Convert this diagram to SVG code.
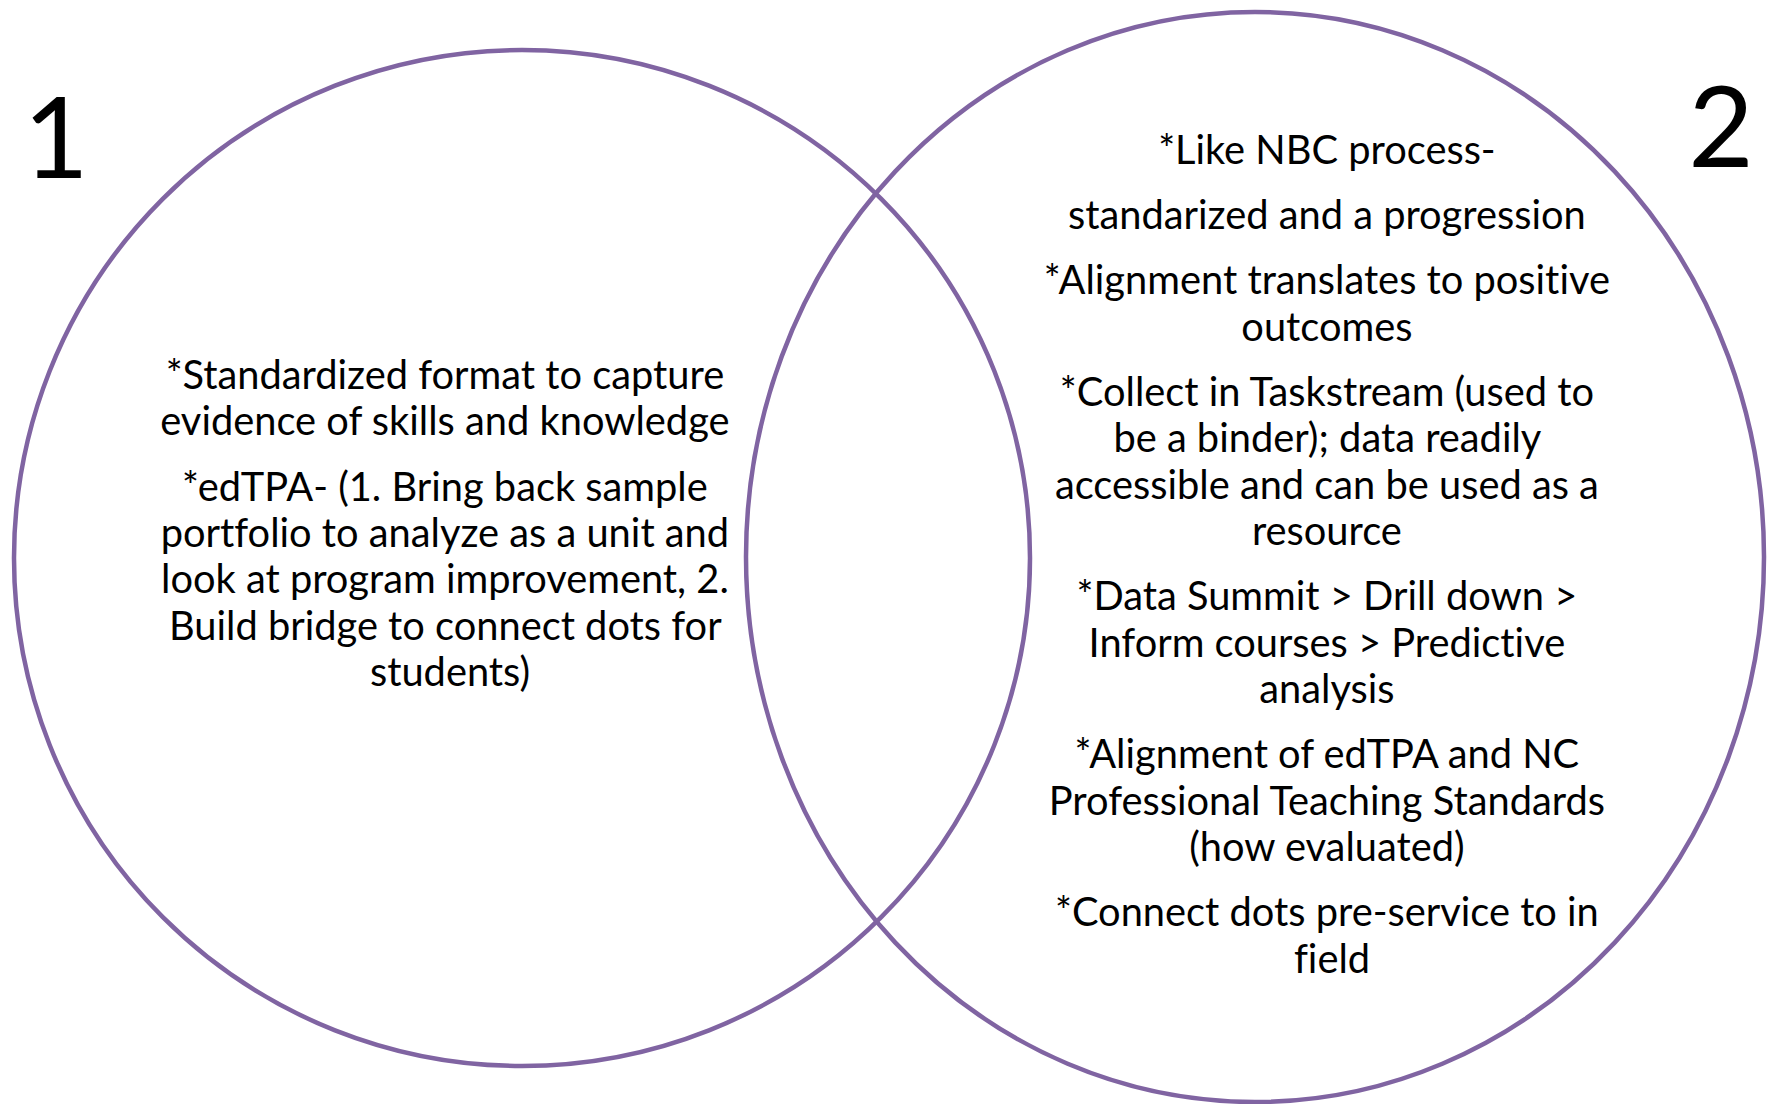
<svg xmlns="http://www.w3.org/2000/svg" width="1767" height="1104" viewBox="0 0 1767 1104">
<style>
.ring{fill:none;stroke:#8064A2;stroke-width:4.5}
.t{font-family:Lato,"Open Sans","Liberation Sans",sans-serif;font-size:39.8px;fill:#000;text-anchor:middle;font-variant-ligatures:none}
.num{font-family:Lato,"Open Sans","Liberation Sans",sans-serif;font-size:113px;fill:#000;text-anchor:middle}
</style>
<rect width="1767" height="1104" fill="#fff"/>
<g id="connectors"></g>
<g id="set1">
<circle class="ring" cx="522" cy="558" r="508"/>
<text class="t" x="450">
<tspan x="450" y="389">*Standardized format to capture</tspan>
<tspan x="450" y="435.3">evidence of skills and knowledge</tspan>
<tspan x="450" y="500.7">*edTPA- (1. Bring back sample</tspan>
<tspan x="450" y="547">portfolio to analyze as a unit and</tspan>
<tspan x="450" y="593.3">look at program improvement, 2.</tspan>
<tspan x="450" y="639.6">Build bridge to connect dots for</tspan>
<tspan x="450" y="686">students)</tspan>
</text>
</g>
<g id="set2">
<ellipse class="ring" cx="1255" cy="557" rx="509" ry="545"/>
<text class="t" x="1332">
<tspan x="1332" y="163.5">*Like NBC process-</tspan>
<tspan x="1332" y="229">standarized and a progression</tspan>
<tspan x="1332" y="294.3">*Alignment translates to positive</tspan>
<tspan x="1332" y="340.6">outcomes</tspan>
<tspan x="1332" y="406">*Collect in Taskstream (used to</tspan>
<tspan x="1332" y="452.3">be a binder); data readily</tspan>
<tspan x="1332" y="498.6">accessible and can be used as a</tspan>
<tspan x="1332" y="545">resource</tspan>
<tspan x="1332" y="610.3">*Data Summit &gt; Drill down &gt;</tspan>
<tspan x="1332" y="656.6">Inform courses &gt; Predictive</tspan>
<tspan x="1332" y="703">analysis</tspan>
<tspan x="1332" y="768.3">*Alignment of edTPA and NC</tspan>
<tspan x="1332" y="814.6">Professional Teaching Standards</tspan>
<tspan x="1332" y="861">(how evaluated)</tspan>
<tspan x="1332" y="926.3">*Connect dots pre-service to in</tspan>
<tspan x="1332" y="972.6">field</tspan>
</text>
</g>
<g id="label1"><text class="num" x="56" y="178">1</text></g>
<g id="label2"><text class="num" x="1721" y="167">2</text></g>
</svg>
